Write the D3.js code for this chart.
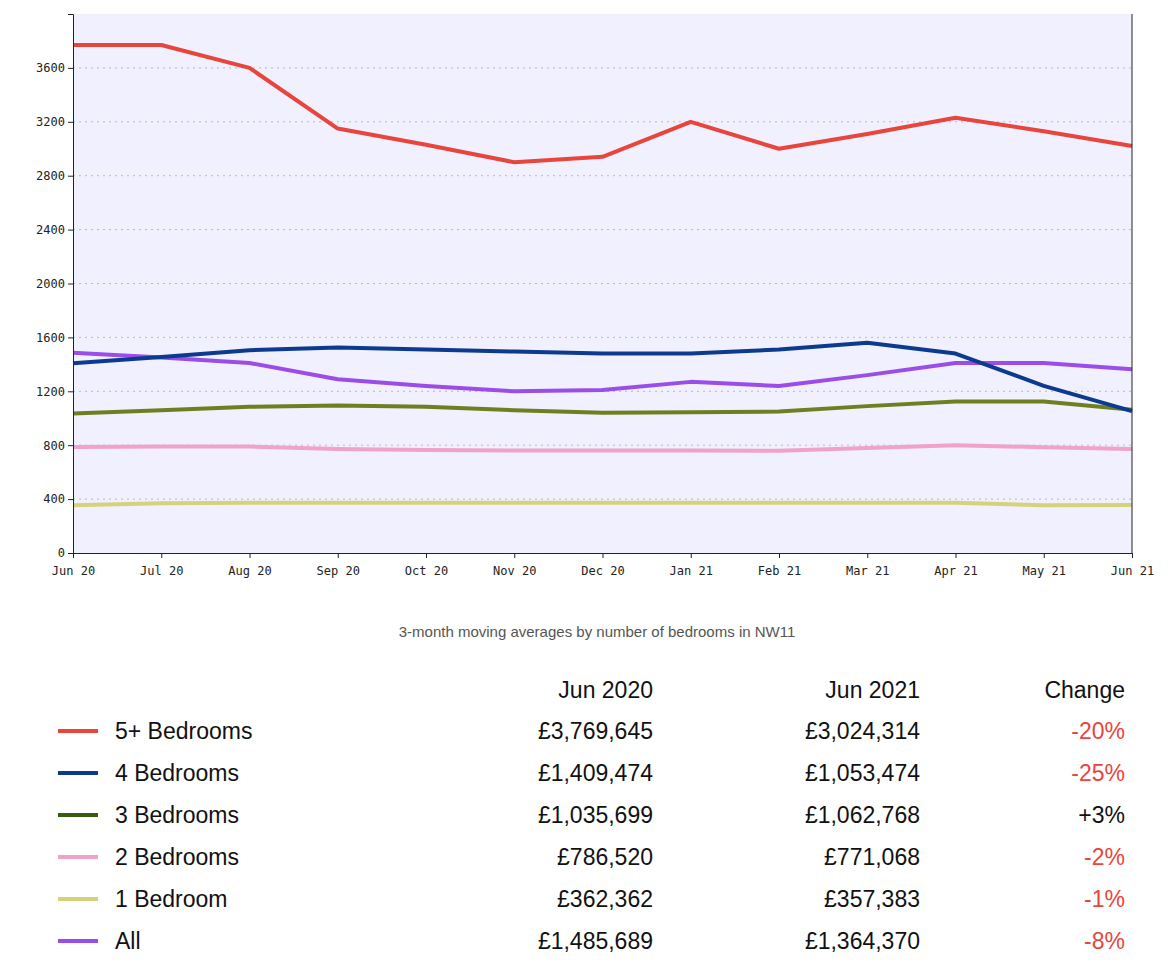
<!DOCTYPE html>
<html><head><meta charset="utf-8">
<script src="https://cdn.jsdelivr.net/npm/d3@7"></script>
<style>
body{margin:0;background:#fff;}
text{font-family:"Liberation Sans",Arial,sans-serif;}
</style></head>
<body><svg id="c" width="1168" height="976"></svg>
<script>
const months = ['Jun 20','Jul 20','Aug 20','Sep 20','Oct 20','Nov 20','Dec 20','Jan 21','Feb 21','Mar 21','Apr 21','May 21','Jun 21'];
const yTicks = [0,400,800,1200,1600,2000,2400,2800,3200,3600];

const bed5 = [3770,3770,3600,3150,3030,2900,2940,3200,3000,3110,3230,3130,3020];
const bed4 = [1409,1455,1505,1525,1510,1495,1480,1480,1510,1560,1480,1240,1053];
const bed3 = [1035,1060,1085,1095,1085,1060,1040,1045,1050,1090,1125,1125,1063];
const bed2 = [786,790,790,772,765,760,760,760,758,780,800,785,771];
const bed1 = [355,370,372,372,372,372,372,372,372,372,372,355,357];
const all  = [1486,1450,1410,1290,1240,1200,1210,1270,1240,1320,1410,1410,1364];

const seriesNames = ['5+ Bedrooms','4 Bedrooms','3 Bedrooms','2 Bedrooms','1 Bedroom','All'];
const lineColors  = ['#e8453c','#0b3a8f','#6d7f1f','#f0a2c9','#d6d27c','#9b4de8'];
const legendColors= ['#e8453c','#0b3a8f','#3b5a12','#f0a2c9','#d6d27c','#9b4de8'];
const startVals = ['£3,769,645','£1,409,474','£1,035,699','£786,520','£362,362','£1,485,689'];
const endVals   = ['£3,024,314','£1,053,474','£1,062,768','£771,068','£357,383','£1,364,370'];
const changes   = ['-20%','-25%','+3%','-2%','-1%','-8%'];
const drawOrder = [bed1, bed2, bed3, all, bed4, bed5];
const drawColors= [lineColors[4],lineColors[3],lineColors[2],lineColors[5],lineColors[1],lineColors[0]];

const svg = d3.select('#c');
const L=73, R=1132, T=14, B=553;
const x = d3.scalePoint().domain(months).range([L,R]);
const y = d3.scaleLinear().domain([0,4000]).range([B,T]);

svg.append('rect').attr('x',L).attr('y',T).attr('width',R-L).attr('height',B-T).attr('fill','#f0f0ff');

svg.append('g').selectAll('line').data(yTicks.slice(1)).join('line')
  .attr('x1',L).attr('x2',R).attr('y1',d=>y(d)).attr('y2',d=>y(d))
  .attr('stroke','#b8b8c8').attr('stroke-dasharray','2,4');

const line = d3.line().x((d,i)=>x(months[i])).y(d=>y(d));
svg.append('g').selectAll('path').data(drawOrder).join('path')
  .attr('d',line).attr('fill','none').attr('stroke-width',4).attr('stroke-linejoin','round')
  .attr('stroke',(d,i)=>drawColors[i]);

const axisText = g=>g.selectAll('text').style('font-family','"DejaVu Sans Mono",monospace').style('font-size','12px').attr('fill','#222');
svg.append('g').attr('transform',`translate(${L},0)`)
  .call(d3.axisLeft(y).tickValues(yTicks).tickFormat(d3.format('d')).tickSize(5).tickPadding(3))
  .call(axisText)
  .call(g=>g.selectAll('line,path').attr('stroke','#222'));
svg.append('g').attr('transform',`translate(0,${B})`)
  .call(d3.axisBottom(x).tickSize(5).tickPadding(8))
  .call(axisText)
  .call(g=>g.selectAll('line,path').attr('stroke','#222'));
svg.append('line').attr('x1',R).attr('x2',R).attr('y1',T).attr('y2',B).attr('stroke','#222');

svg.append('text').attr('x',597).attr('y',637).attr('text-anchor','middle')
  .attr('font-size',15).attr('fill','#555').text('3-month moving averages by number of bedrooms in NW11');

const fs = 23;
const hdr = svg.append('g').attr('font-size',fs).attr('fill','#111').attr('text-anchor','end');
hdr.append('text').attr('x',653).attr('y',698).text('Jun 2020');
hdr.append('text').attr('x',920).attr('y',698).text('Jun 2021');
hdr.append('text').attr('x',1125).attr('y',698).text('Change');

const rows = svg.append('g').selectAll('g').data(seriesNames).join('g')
  .attr('transform',(d,i)=>`translate(0,${731+i*42})`);
rows.append('line').attr('x1',58).attr('x2',98).attr('y1',0).attr('y2',0)
  .attr('stroke',(d,i)=>legendColors[i]).attr('stroke-width',4);
rows.append('text').attr('x',115).attr('y',8).attr('font-size',fs).attr('fill','#111').text(d=>d);
rows.append('text').attr('x',653).attr('y',8).attr('font-size',fs).attr('text-anchor','end').attr('fill','#111').text((d,i)=>startVals[i]);
rows.append('text').attr('x',920).attr('y',8).attr('font-size',fs).attr('text-anchor','end').attr('fill','#111').text((d,i)=>endVals[i]);
rows.append('text').attr('x',1125).attr('y',8).attr('font-size',fs).attr('text-anchor','end')
  .attr('fill',(d,i)=>changes[i].startsWith('-')?'#e8453c':'#111').text((d,i)=>changes[i]);
</script></body></html>
